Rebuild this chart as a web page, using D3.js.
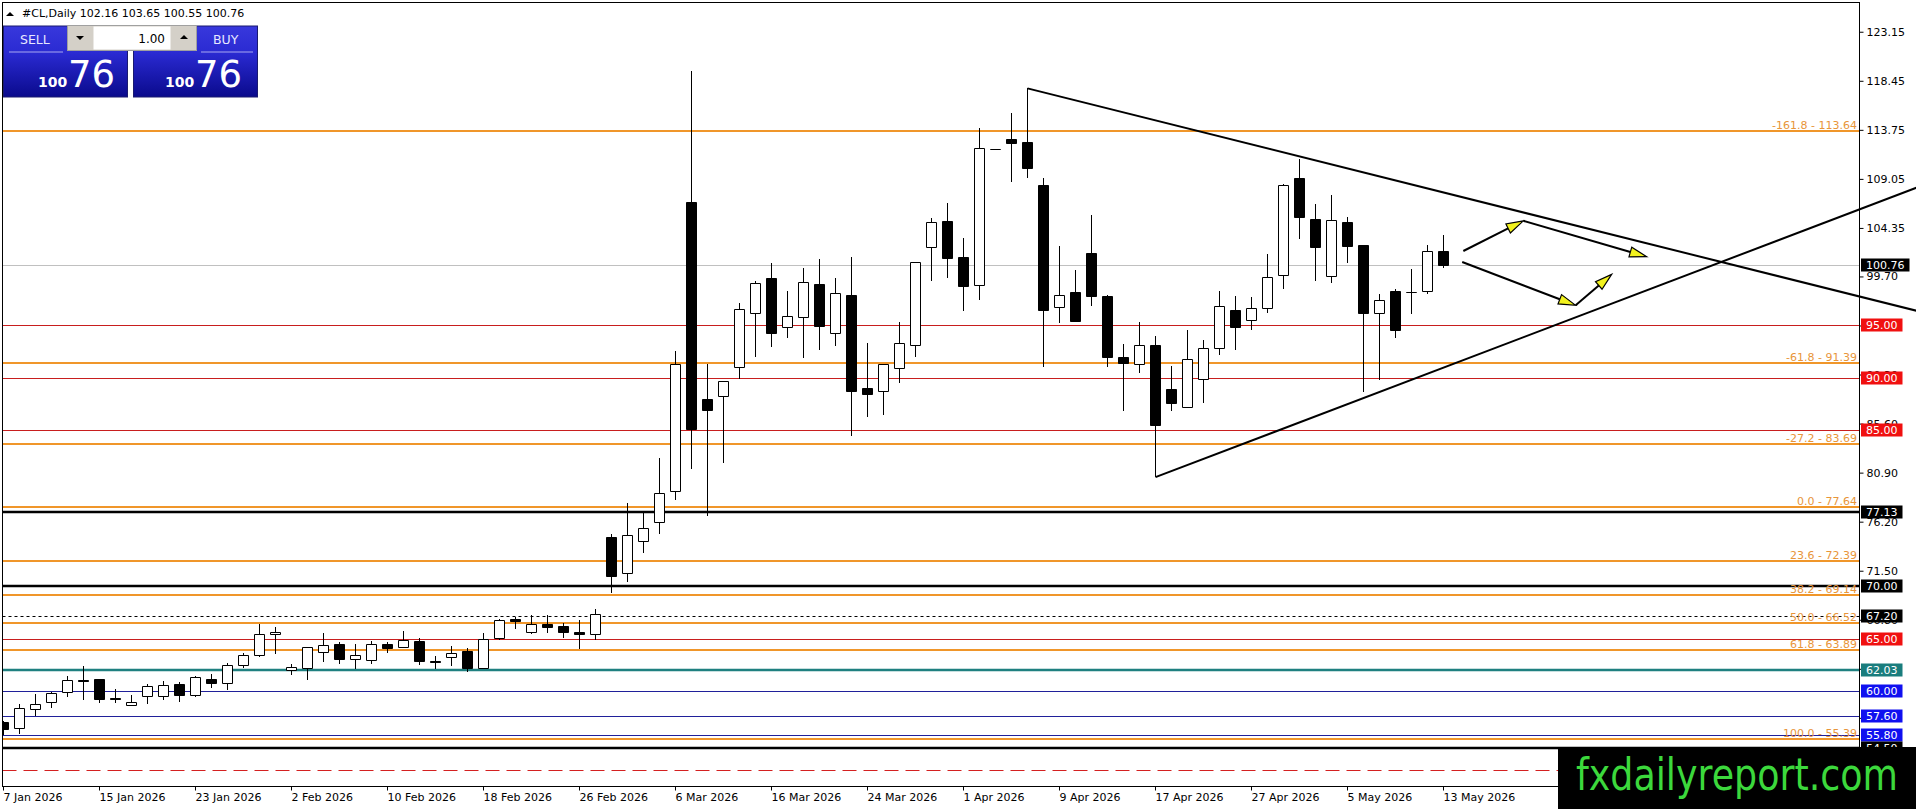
<!DOCTYPE html>
<html lang="en">
<head>
<meta charset="UTF-8">
<title>#CL,Daily</title>
<script src="https://d3js.org/d3.v7.min.js"></script>
<style>
  body { margin: 0; background: #fff; overflow: hidden; }
  svg text { font-family: "DejaVu Sans", sans-serif; }
</style>
</head>
<body>
<div id="chart"></div>
<script>
// ---- data ----
var symbol = "#CL,Daily";
var startDate = new Date(Date.UTC(2026, 0, 7));   // first bar, weekdays only
var opens  = [57.00,56.40,58.28,58.95,59.90,61.05,61.09,59.26,58.67,59.53,59.53,60.67,59.62,61.09,60.77,62.49,63.47,65.45,61.95,62.20,
              63.70,64.43,63.03,62.96,64.43,64.17,64.81,62.82,63.25,63.76,62.17,65.10,66.85,65.67,66.37,66.20,65.67,65.45,74.69,71.30,
              74.37,76.15,79.15,106.84,87.96,88.20,91.00,96.19,99.57,94.82,95.78,99.00,94.28,97.95,89.02,88.73,90.93,93.13,102.51,105.03,
              101.58,98.87,111.88,112.87,112.59,108.47,96.77,98.23,101.97,97.85,92.01,91.31,93.16,88.92,87.17,89.84,92.84,96.53,95.57,96.63,
              99.80,109.12,105.18,99.70,104.92,102.68,96.21,98.29,98.25,98.33,102.16];
var highs  = [57.10,58.70,59.72,59.85,61.44,62.33,61.15,60.13,59.62,60.67,60.90,60.83,61.37,61.63,62.65,63.60,66.40,66.08,62.52,64.20,
              65.50,64.65,64.49,64.81,64.65,65.77,65.07,63.28,64.24,64.08,65.50,66.90,67.09,67.28,67.28,66.50,66.77,67.86,75.06,77.98,
              77.14,82.26,92.56,119.38,91.32,89.70,97.16,99.25,100.97,98.33,100.53,101.36,99.54,101.58,93.32,91.35,95.36,101.10,105.31,106.75,
              103.34,113.90,111.95,115.36,117.72,109.11,102.64,100.34,105.60,97.90,93.23,95.36,93.96,91.15,94.56,93.61,98.33,97.85,97.69,101.85,
              108.57,110.97,106.65,107.52,105.40,102.70,98.00,98.52,100.41,102.71,103.65];
var lows   = [55.75,55.83,57.55,58.38,59.40,59.14,58.83,58.82,58.60,58.70,59.08,58.92,59.40,60.29,60.10,62.20,63.22,63.54,61.47,61.05,
              62.74,62.58,62.10,62.58,63.60,64.08,62.42,62.10,62.33,61.79,62.17,64.85,65.90,65.45,65.56,65.08,63.99,64.90,69.40,70.40,
              73.23,75.06,78.24,81.20,76.78,81.82,89.86,91.95,92.91,93.77,91.85,92.65,93.00,84.42,86.21,86.43,89.46,92.01,99.29,99.51,
              96.42,97.44,111.85,108.79,109.17,90.99,95.20,95.40,96.89,90.99,86.84,90.42,80.47,86.84,87.10,87.55,92.20,92.69,94.55,96.21,
              98.45,103.32,99.29,99.10,101.02,88.62,89.81,93.81,96.12,97.97,100.55];
var closes = [56.35,58.38,58.76,59.81,61.05,60.93,59.24,59.22,58.95,60.48,60.54,59.59,61.28,60.74,62.49,63.44,65.45,65.67,62.26,64.17,
              64.40,63.03,63.47,64.43,64.08,64.87,62.84,62.80,63.66,62.17,64.97,66.80,66.70,66.37,66.10,65.64,65.45,67.39,70.97,74.88,
              75.60,78.97,91.32,85.11,86.86,89.64,96.60,99.06,94.25,95.91,99.16,94.98,98.11,88.70,88.41,91.28,93.32,101.07,104.90,101.42,
              98.74,111.98,111.90,112.46,110.13,96.48,97.92,95.46,97.85,91.95,91.44,93.13,85.44,87.55,91.79,92.84,96.86,94.87,96.63,99.61,
              108.48,105.43,102.49,105.08,102.65,96.21,97.49,94.58,98.20,102.10,100.76];

var dateTickEvery = 6;
var priceTicks = [123.15, 118.45, 113.75, 109.05, 104.35, 99.70, 95.00, 90.30, 85.60, 80.90, 76.20, 71.50, 66.80, 62.10, 57.40, 52.70];

var fibLevels = ["-161.8", "-61.8", "-27.2", "0.0", "23.6", "38.2", "50.0", "61.8", "100.0"];
var fibPrices = [113.64, 91.39, 83.69, 77.64, 72.39, 69.14, 66.52, 63.89, 55.39];

var levelPrices = [95.00, 90.00, 85.00, 77.13, 70.00, 67.20, 65.00, 62.03, 60.00, 57.60, 55.80, 54.50];
var levelKinds  = ["red", "red", "red", "black", "black", "dash", "red", "teal", "blue", "blue", "blue", "black"];
var redDashPrice = 52.40;
var currentPrice = 100.76;

// trend lines: [bar index, price] anchors, drawn as rays
var trendUpper = [[64, 117.72], [81, 111.20]];
var trendLower = [[72, 80.47], [85, 88.05]];
// projection arrows: [from, to] in [bar index, price]
var arrows = [
  [[91.24, 102.14], [94.99, 105.03]],
  [[94.99, 105.03], [102.70, 101.59]],
  [[91.17, 101.08], [98.26, 96.93]],
  [[98.26, 96.93], [100.51, 99.90]]
];

// ---- layout ----
var W = 1916, H = 809;
var plot = { left: 2.5, top: 2.5, right: 1859.5, bottom: 786.5 };

var kindStyle = {
  red:   { line: "#c81e1e", box: "#f01010", width: 1 },
  black: { line: "#000000", box: "#000000", width: 2.5 },
  dash:  { line: "#000000", box: "#000000", width: 1, dash: "3,3" },
  teal:  { line: "#1f8080", box: "#1a7d7d", width: 2.5 },
  blue:  { line: "#20209a", box: "#1010f0", width: 1 }
};

var dates = [];
var d = new Date(startDate);
while (dates.length < closes.length) {
  var wd = d.getUTCDay();
  if (wd !== 0 && wd !== 6) dates.push(new Date(d));
  d.setUTCDate(d.getUTCDate() + 1);
}
var fmtDate = d3.utcFormat("%-d %b %Y");
var n = closes.length;

var x = d3.scaleLinear().domain([0, n - 1]).range([3.5, 3.5 + 16 * (n - 1)]);
var y = d3.scaleLinear().domain([50.87, 126.0]).range([786, 2]);

var svg = d3.select("#chart").append("svg")
  .attr("width", W).attr("height", H);

svg.append("rect").attr("width", W).attr("height", H).attr("fill", "#fff");

var defs = svg.append("defs");
defs.append("clipPath").attr("id", "plotClip").append("rect")
  .attr("x", plot.left).attr("y", plot.top)
  .attr("width", plot.right - plot.left).attr("height", plot.bottom - plot.top);
var grad = defs.append("linearGradient").attr("id", "panelGrad")
  .attr("x1", 0).attr("y1", 0).attr("x2", 0).attr("y2", 1);
grad.append("stop").attr("offset", "0%").attr("stop-color", "#3838dc");
grad.append("stop").attr("offset", "38%").attr("stop-color", "#2a2ad2");
grad.append("stop").attr("offset", "100%").attr("stop-color", "#0a0a8c");

var g = svg.append("g").attr("clip-path", "url(#plotClip)");

function hline(p, color, width, dash) {
  var yy = Math.round(y(p)) + (width % 2 === 1 ? 0.5 : 0);
  g.append("line")
    .attr("x1", plot.left).attr("x2", plot.right)
    .attr("y1", yy).attr("y2", yy)
    .attr("stroke", color).attr("stroke-width", width)
    .attr("stroke-dasharray", dash || null);
}

hline(redDashPrice, "#d42020", 1, "14,7");
hline(currentPrice, "#c0c0c0", 1);
levelPrices.forEach(function(p, i) {
  var s = kindStyle[levelKinds[i]];
  hline(p, s.line, s.width, s.dash);
});
fibPrices.forEach(function(p) { hline(p, "#f0962a", 2); });

// fib labels
g.selectAll("text.fib").data(fibPrices).enter().append("text")
  .attr("class", "fib")
  .attr("x", 1857).attr("y", function(p) { return Math.round(y(p)) - 2; })
  .attr("text-anchor", "end").attr("font-size", 11).attr("fill", "#e8953a")
  .text(function(p, i) { return fibLevels[i] + " - " + p.toFixed(2); });

// candles
var idx = d3.range(n);
var candle = g.selectAll("g.candle").data(idx).enter().append("g").attr("class", "candle");
candle.append("line")
  .attr("x1", function(i) { return x(i); }).attr("x2", function(i) { return x(i); })
  .attr("y1", function(i) { return Math.round(y(highs[i])); })
  .attr("y2", function(i) { return Math.round(y(lows[i])); })
  .attr("stroke", "#000").attr("stroke-width", 1);
candle.append("path")
  .attr("d", function(i) {
    var t = Math.round(y(Math.max(opens[i], closes[i]))) + 0.5;
    var b = Math.round(y(Math.min(opens[i], closes[i]))) + 0.5;
    var xc = x(i);
    return "M" + (xc - 5) + "," + t + "H" + (xc + 5) + "V" + b + "H" + (xc - 5) + "Z";
  })
  .attr("fill", function(i) { return closes[i] >= opens[i] ? "#fff" : "#000"; })
  .attr("stroke", "#000").attr("stroke-width", 1);

// frame
svg.append("rect")
  .attr("x", plot.left).attr("y", plot.top)
  .attr("width", plot.right - plot.left).attr("height", plot.bottom - plot.top)
  .attr("fill", "none").attr("stroke", "#000").attr("stroke-width", 1);

// trend lines (rays running to the window edge)
var tl = svg.append("g");
function ray(a) {
  var slope = (a[1][1] - a[0][1]) / (a[1][0] - a[0][0]);
  var endIdx = x.invert(W + 5);
  tl.append("line")
    .attr("x1", x(a[0][0])).attr("y1", y(a[0][1]))
    .attr("x2", x(endIdx)).attr("y2", y(a[0][1] + slope * (endIdx - a[0][0])))
    .attr("stroke", "#000").attr("stroke-width", 2);
}
ray(trendUpper);
ray(trendLower);

arrows.forEach(function(a) {
  var x1 = x(a[0][0]), y1 = y(a[0][1]), x2 = x(a[1][0]), y2 = y(a[1][1]);
  var ang = Math.atan2(y2 - y1, x2 - x1), L = 17, hw = 5;
  var bx = x2 - L * Math.cos(ang), by = y2 - L * Math.sin(ang);
  tl.append("line").attr("x1", x1).attr("y1", y1).attr("x2", bx).attr("y2", by)
    .attr("stroke", "#000").attr("stroke-width", 2);
  var pts = [[x2, y2],
             [bx + hw * Math.sin(ang), by - hw * Math.cos(ang)],
             [bx - hw * Math.sin(ang), by + hw * Math.cos(ang)]];
  tl.append("path").attr("d", "M" + pts.join("L") + "Z")
    .attr("fill", "#f2f21e").attr("stroke", "#000").attr("stroke-width", 1.2);
});

// axes
var xAxis = svg.append("g").attr("transform", "translate(0," + plot.bottom + ")")
  .call(d3.axisBottom(x)
    .tickValues(d3.range(0, n, dateTickEvery))
    .tickFormat(function(i) { return fmtDate(dates[i]); })
    .tickSize(4).tickPadding(3).offset(0));
xAxis.select(".domain").remove();
xAxis.selectAll("text").attr("text-anchor", "start")
  .attr("font-family", "DejaVu Sans").attr("font-size", 11).attr("fill", "#000");

var yAxis = svg.append("g").attr("transform", "translate(" + plot.right + ",0)")
  .call(d3.axisRight(y)
    .tickValues(priceTicks)
    .tickFormat(d3.format(".2f"))
    .tickSize(4).tickPadding(3).offset(0.5));
yAxis.select(".domain").remove();
yAxis.selectAll("text").attr("font-family", "DejaVu Sans").attr("font-size", 11).attr("fill", "#000");

// price label boxes
function priceBox(p, fill) {
  var yy = Math.round(y(p));
  var grp = svg.append("g");
  var r = grp.append("rect").attr("x", 1861).attr("y", yy - 6.5).attr("height", 13).attr("fill", fill);
  var t = grp.append("text").attr("x", 1866).attr("y", yy).attr("dy", "0.36em")
    .attr("font-size", 11).attr("fill", "#fff").text(p.toFixed(2));
  r.attr("width", t.node().getComputedTextLength() + 10);
}
priceBox(currentPrice, "#000");
levelPrices.forEach(function(p, i) { priceBox(p, kindStyle[levelKinds[i]].box); });

// header line
svg.append("path").attr("d", "M6,16L10,12L14,16Z").attr("fill", "#000");
svg.append("text").attr("x", 22).attr("y", 17).attr("font-size", 11).attr("fill", "#000")
  .text(symbol + "  " + [opens[n - 1], highs[n - 1], lows[n - 1], closes[n - 1]].map(function(v) { return v.toFixed(2); }).join(" "));

// one-click trading panel
var bid = closes[n - 1].toFixed(2).split(".");
function side(x0, label, labelX, sepX1, sepX2, bigX, smallX) {
  var p = svg.append("g");
  p.append("rect").attr("x", x0).attr("y", 26).attr("width", 124).attr("height", 71)
    .attr("fill", "url(#panelGrad)").attr("stroke", "#1a1a70").attr("stroke-width", 1);
  p.append("text").attr("x", labelX).attr("y", 44).attr("font-size", 12.5).attr("fill", "#e8e8ff").text(label);
  p.append("line").attr("x1", sepX1).attr("x2", sepX2).attr("y1", 52).attr("y2", 52)
    .attr("stroke", "#a8a8f0").attr("stroke-width", 1);
  p.append("text").attr("x", smallX).attr("y", 87).attr("font-family", "Liberation Sans")
    .attr("font-weight", "bold").attr("font-size", 14).attr("fill", "#fff").text(bid[0]);
  p.append("text").attr("x", bigX).attr("y", 87).attr("font-family", "Liberation Sans")
    .attr("font-size", 37).attr("fill", "#fff").text(bid[1]);
}
side(3.5, "SELL", 20, 9, 63, 68, 38);
side(133.5, "BUY", 213, 201, 253, 195, 165);

var spin = svg.append("g");
spin.append("rect").attr("x", 67.5).attr("y", 25.5).attr("width", 129).attr("height", 25)
  .attr("fill", "#d4d0c8").attr("stroke", "#a0a0a0");
spin.append("rect").attr("x", 93.5).attr("y", 26.5).attr("width", 77).attr("height", 23).attr("fill", "#fff");
spin.append("path").attr("d", "M76,36H84L80,40Z").attr("fill", "#000");
spin.append("path").attr("d", "M180,39H188L184,35Z").attr("fill", "#000");
spin.append("text").attr("x", 165).attr("y", 43).attr("text-anchor", "end")
  .attr("font-size", 12).attr("fill", "#000").text("1.00");

// watermark
svg.append("rect").attr("x", 1558).attr("y", 747).attr("width", W - 1558).attr("height", H - 747).attr("fill", "#000");
svg.append("text").attr("x", 1576).attr("y", 790)
  .attr("font-family", "Liberation Sans").attr("font-size", 45).attr("fill", "#3cd83c")
  .attr("textLength", 322).attr("lengthAdjust", "spacingAndGlyphs")
  .text("fxdailyreport.com");
</script>
</body>
</html>
